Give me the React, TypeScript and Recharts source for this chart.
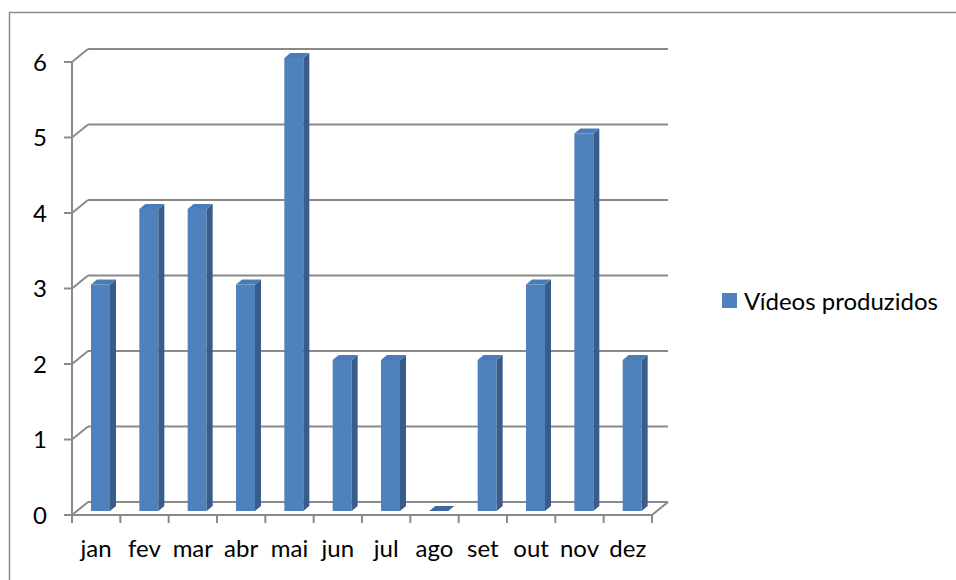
import React from "react";
import { BarChart, Bar, XAxis, YAxis, CartesianGrid } from "recharts";

const MONTHS = ["jan", "fev", "mar", "abr", "mai", "jun", "jul", "ago", "set", "out", "nov", "dez"];
const VIDEOS = [3, 4, 4, 3, 6, 2, 2, 0, 2, 3, 5, 2];
const Y_TICKS = [0, 1, 2, 3, 4, 5, 6];
const SERIES_NAME = "Vídeos produzidos";

const data = MONTHS.map((m, i) => ({ month: m, value: VIDEOS[i] }));

const W = 956;
const H = 580;
const M = { top: 62, right: 304, bottom: 15, left: 12 };
const Y_AXIS_W = 60;
const X_AXIS_H = 50;
const PLOT_LEFT = M.left + Y_AXIS_W;
const PLOT_RIGHT = W - M.right;
const PLOT_BOTTOM = H - M.bottom - X_AXIS_H;
const BAND = (PLOT_RIGHT - PLOT_LEFT) / MONTHS.length;

// back wall offset (3D depth)
const DX = 16;
const DY = -13;
const GRID = "#8a8a8a";
const FONT = "Lato, 'Open Sans', sans-serif";
const FS = 24;

const FRONT = "#4f81bd";
const SIDE = "#385d8a";
const TOP = "#4a7cb8";

function GridLine(props: any) {
  const { x1, x2, y1 } = props;
  const isFloor = Math.abs(y1 - PLOT_BOTTOM) < 1;
  return (
    <g key={props.key}>
      <line x1={x1 + DX} y1={y1 + DY} x2={x2 + DX} y2={y1 + DY} stroke={GRID} strokeWidth={2} />
      <line x1={x1} y1={y1} x2={x1 + DX} y2={y1 + DY} stroke={GRID} strokeWidth={2} />
      {isFloor && <line x1={x2} y1={y1} x2={x2 + DX} y2={y1 + DY} stroke={GRID} strokeWidth={2} />}
    </g>
  );
}

// 3D-ish column: front face, right side, top
function Column(props: any) {
  const { x, y, width, height } = props;
  const fx = x + 4;
  const fy = y - 4;
  const d = 6;
  const dd = -5;
  return (
    <g>
      {height > 0 && <rect x={fx} y={fy} width={width} height={height} fill={FRONT} />}
      {height > 0 && (
        <polygon
          points={`${fx + width},${fy} ${fx + width + d},${fy + dd} ${fx + width + d},${fy + height + dd} ${fx + width},${fy + height}`}
          fill={SIDE}
        />
      )}
      <polygon
        points={`${fx},${fy} ${fx + d},${fy + dd} ${fx + width + d},${fy + dd} ${fx + width},${fy}`}
        fill={height > 0 ? TOP : "#3d6aa6"}
      />
    </g>
  );
}

function MonthTick(props: any) {
  const { x, y, payload, index } = props;
  const left = x - BAND / 2;
  const right = x + BAND / 2;
  return (
    <g>
      <line x1={left} y1={y - 8} x2={left} y2={y} stroke={GRID} strokeWidth={2} />
      {index === MONTHS.length - 1 && <line x1={right} y1={y - 8} x2={right} y2={y} stroke={GRID} strokeWidth={2} />}
      <text x={x} y={y} dy={34} textAnchor="middle" fill="#000" fontSize={FS} fontFamily={FONT}>
        {payload.value}
      </text>
    </g>
  );
}

export default function App() {
  return (
    <div style={{ width: W, height: H, position: "relative", background: "#fff", overflow: "hidden" }}>
      <style>{`body{margin:0}`}</style>
      <svg width={W} height={H} style={{ position: "absolute", left: 0, top: 0 }}>
        <rect x={9.5} y={12.5} width={W} height={H} fill="none" stroke="#8c8c8c" strokeWidth={1.5} />
      </svg>
      <div style={{ position: "absolute", left: 0, top: 0 }}>
        <BarChart width={W} height={H} data={data} margin={M}>
          <CartesianGrid horizontal={GridLine} vertical={false} />
          <XAxis
            dataKey="month"
            height={X_AXIS_H}
            axisLine={{ stroke: GRID, strokeWidth: 2 }}
            tickLine={false}
            tickSize={8}
            tickMargin={0}
            tick={MonthTick}
            interval={0}
          />
          <YAxis
            width={Y_AXIS_W}
            domain={[0, 6]}
            ticks={Y_TICKS}
            axisLine={{ stroke: GRID, strokeWidth: 2 }}
            tickLine={{ stroke: GRID, strokeWidth: 2 }}
            tickSize={8}
            tickMargin={17}
            tick={{ fill: "#000", fontSize: FS, fontFamily: FONT }}
          />
          <Bar dataKey="value" name={SERIES_NAME} barSize={19} shape={Column} isAnimationActive={false} />
        </BarChart>
      </div>
      <div
        style={{
          position: "absolute",
          left: 722,
          top: 286,
          display: "flex",
          alignItems: "center",
          fontFamily: FONT,
          fontSize: FS,
          color: "#000",
          whiteSpace: "nowrap",
        }}
      >
        <span style={{ width: 15, height: 15, background: FRONT, marginRight: 7, display: "inline-block" }} />
        {SERIES_NAME}
      </div>
    </div>
  );
}
